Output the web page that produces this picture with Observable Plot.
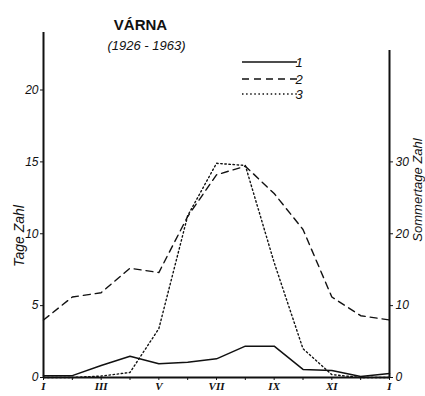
<!DOCTYPE html>
<html>
<head>
<meta charset="utf-8">
<script src="https://cdn.jsdelivr.net/npm/d3@7"></script>
<script src="https://cdn.jsdelivr.net/npm/@observablehq/plot@0.6"></script>
<style>
  html, body { margin: 0; padding: 0; background: #fff; }
  #chart svg { display: block; }
</style>
</head>
<body>
<div id="chart"></div>
<script>
// ---- data ----
const monthLabels = ["I","II","III","IV","V","VI","VII","VIII","IX","X","XI","XII","I"];
const monthIndex = [0,1,2,3,4,5,6,7,8,9,10,11,12];
// series 1 (solid), left axis: Tage Zahl
const series1 = [0.12, 0.13, 0.83, 1.48, 0.95, 1.06, 1.3, 2.18, 2.18, 0.56, 0.49, 0.07, 0.28];
// series 2 (dashed), left axis: Tage Zahl
const series2 = [4.0, 5.6, 5.9, 7.6, 7.3, 11.2, 14.1, 14.7, 12.8, 10.3, 5.6, 4.3, 4.0];
// series 3 (dotted), right axis: Sommertage Zahl
const series3 = [0, 0, 0.2, 0.7, 6.8, 22.5, 29.8, 29.5, 16.0, 4.0, 0.4, 0, 0];
const leftTicks = [0, 5, 10, 15, 20];
const rightTicks = [0, 10, 20, 30];
const legendLabels = ["1", "2", "3"];
const titleText = "VÁRNA";
const subtitleText = "(1926 - 1963)";
const leftTitle = "Tage Zahl";
const rightTitle = "Sommertage Zahl";

const rightFactor = 2; // right axis = 2 × left axis
const leftAxisTop = 24;
const rightAxisTop = 22.75;

const rows1 = monthIndex.map(i => ({m: i, v: series1[i]}));
const rows2 = monthIndex.map(i => ({m: i, v: series2[i]}));
const rows3 = monthIndex.map(i => ({m: i, v: series3[i] / rightFactor}));

const ink = "#111";
const sans = "'Liberation Sans', Arial, sans-serif";

const chart = Plot.plot({
  width: 425,
  height: 396,
  marginLeft: 43,
  marginRight: 36,
  marginTop: 32,
  marginBottom: 19,
  style: {background: "#fff", color: ink, fontFamily: sans, fontSize: "12px"},
  x: {domain: [0, 12], label: null},
  y: {domain: [0, leftAxisTop], label: null},
  marks: [
    // axis lines
    Plot.ruleX([0], {y1: 0, y2: leftAxisTop, stroke: ink, strokeWidth: 2}),
    Plot.ruleX([12], {y1: 0, y2: rightAxisTop, stroke: ink, strokeWidth: 2}),
    Plot.ruleY([0], {x1: 0, x2: 12, stroke: ink, strokeWidth: 2}),
    // axes
    Plot.axisX(monthIndex, {
      tickSize: 3, tickPadding: 2, label: null,
      tickFormat: i => (i % 2 === 0 ? monthLabels[i] : ""),
      fontFamily: "'Liberation Serif', 'DejaVu Serif', serif",
      fontStyle: "italic", fontWeight: "bold", fontSize: 11
    }),
    Plot.axisY(leftTicks, {
      anchor: "left", tickSize: 3, tickPadding: 2, label: null,
      fontStyle: "italic", fontSize: 12
    }),
    Plot.axisY(rightTicks.map(t => t / rightFactor), {
      anchor: "right", tickSize: 3, tickPadding: 3, label: null,
      tickFormat: d => String(Math.round(d * rightFactor)),
      fontStyle: "italic", fontSize: 12
    }),
    // data lines
    Plot.line(rows1, {x: "m", y: "v", stroke: ink, strokeWidth: 1.5}),
    Plot.line(rows2, {x: "m", y: "v", stroke: ink, strokeWidth: 1.4, strokeDasharray: "7,5"}),
    Plot.line(rows3, {x: "m", y: "v", stroke: ink, strokeWidth: 1.4, strokeDasharray: "1.5,2.6"}),
    // titles
    Plot.text([titleText], {frameAnchor: "top-left", dx: 97, dy: -13, text: d => d,
      fontSize: 15, fontWeight: "bold", textAnchor: "middle", fill: ink, style: "letter-spacing:2px"}),
    Plot.text([subtitleText], {frameAnchor: "top-left", dx: 103, dy: 8, text: d => d,
      fontSize: 13, fontStyle: "italic", textAnchor: "middle", fill: ink}),
    Plot.text([leftTitle], {frameAnchor: "left", dx: -24, dy: 31, rotate: -90, text: d => d,
      fontSize: 14, fontStyle: "italic", textAnchor: "middle", fill: ink}),
    Plot.text([rightTitle], {frameAnchor: "right", dx: 28, dy: -15, rotate: -90, text: d => d,
      fontSize: 13, fontStyle: "italic", textAnchor: "middle", fill: ink})
  ]
});

// legend
const svg = d3.select(chart);
const dashes = [null, "7,5", "1.5,2.6"];
const legendY = [62, 79, 94];
const lg = svg.append("g").attr("class", "legend");
legendLabels.forEach((lab, i) => {
  const line = lg.append("line")
    .attr("x1", 242).attr("x2", 297)
    .attr("y1", legendY[i]).attr("y2", legendY[i])
    .attr("stroke", ink).attr("stroke-width", 1.4);
  if (dashes[i]) line.attr("stroke-dasharray", dashes[i]);
  lg.append("text")
    .attr("x", 299).attr("y", legendY[i])
    .attr("dy", "0.35em")
    .attr("font-size", 13).attr("font-style", "italic")
    .attr("font-family", sans)
    .attr("fill", ink)
    .text(lab);
});

document.getElementById("chart").appendChild(chart);
</script>
</body>
</html>
